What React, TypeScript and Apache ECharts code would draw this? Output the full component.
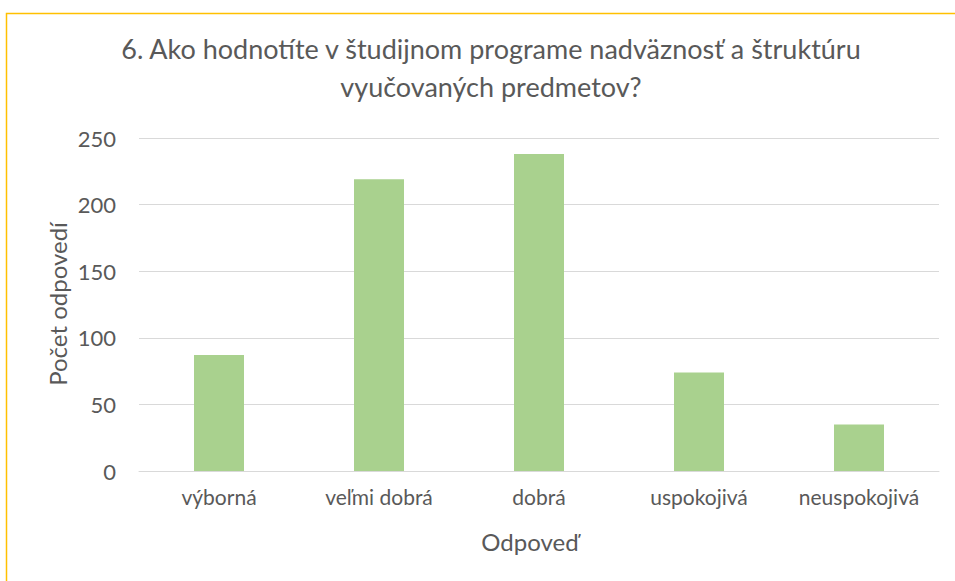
import React, { useEffect, useRef } from "react";
import * as echarts from "echarts";

const categories = ["výborná", "veľmi dobrá", "dobrá", "uspokojivá", "neuspokojivá"];
const values = [87, 219, 238, 74, 35];
const titleText = "6. Ako hodnotíte v študijnom programe nadväznosť a štruktúru\nvyučovaných predmetov?";
const yAxisTitle = "Počet odpovedí";
const xAxisTitle = "Odpoveď";

const FONT = "Lato, 'Noto Sans', sans-serif";
const TEXT = "#595959";

export default function App() {
  const ref = useRef<HTMLDivElement>(null);
  useEffect(() => {
    if (!ref.current) return;
    const chart = echarts.init(ref.current, undefined, { renderer: "svg" });
    chart.setOption({
      animation: false,
      backgroundColor: "#ffffff",
      title: {
        text: titleText,
        left: 486,
        top: 24,
        textAlign: "center",
        textStyle: { fontFamily: FONT, fontSize: 27, fontWeight: "normal", color: TEXT, lineHeight: 38 },
      },
      grid: { left: 139, right: 16, top: 138, bottom: 110, containLabel: false },
      xAxis: {
        type: "category",
        data: categories,
        axisLine: { show: true, lineStyle: { color: "#D9D9D9", width: 1 } },
        axisTick: { show: false },
        axisLabel: { color: TEXT, fontFamily: FONT, fontSize: 21, margin: 15, interval: 0, hideOverlap: false },
      },
      yAxis: {
        type: "value",
        min: 0,
        max: 250,
        interval: 50,
        axisLine: { show: false },
        axisTick: { show: false },
        splitLine: { lineStyle: { color: "#D9D9D9", width: 1 } },
        axisLabel: { color: TEXT, fontFamily: FONT, fontSize: 22, margin: 23 },
      },
      series: [
        {
          type: "bar",
          data: values,
          barWidth: 50,
          itemStyle: { color: "#A9D18E" },
        },
      ],
      graphic: [
        {
          type: "rect",
          shape: { x: 6.5, y: 13.5, width: 1200, height: 1200 },
          style: { fill: "none", stroke: "#FFC000", lineWidth: 1.5 },
          silent: true,
        },
        {
          type: "text",
          x: 57,
          y: 304,
          rotation: Math.PI / 2,
          style: {
            text: yAxisTitle,
            fill: TEXT,
            fontFamily: FONT,
            fontSize: 24,
            textAlign: "center",
            textVerticalAlign: "middle",
          },
        },
        {
          type: "text",
          x: 530,
          y: 541,
          style: {
            text: xAxisTitle,
            fill: TEXT,
            fontFamily: FONT,
            fontSize: 24,
            textAlign: "center",
            textVerticalAlign: "middle",
          },
        },
      ],
    });
    return () => chart.dispose();
  }, []);
  return (
    <div
      ref={ref}
      style={{ position: "fixed", left: 0, top: 0, width: 955, height: 581, background: "#fff" }}
    />
  );
}
